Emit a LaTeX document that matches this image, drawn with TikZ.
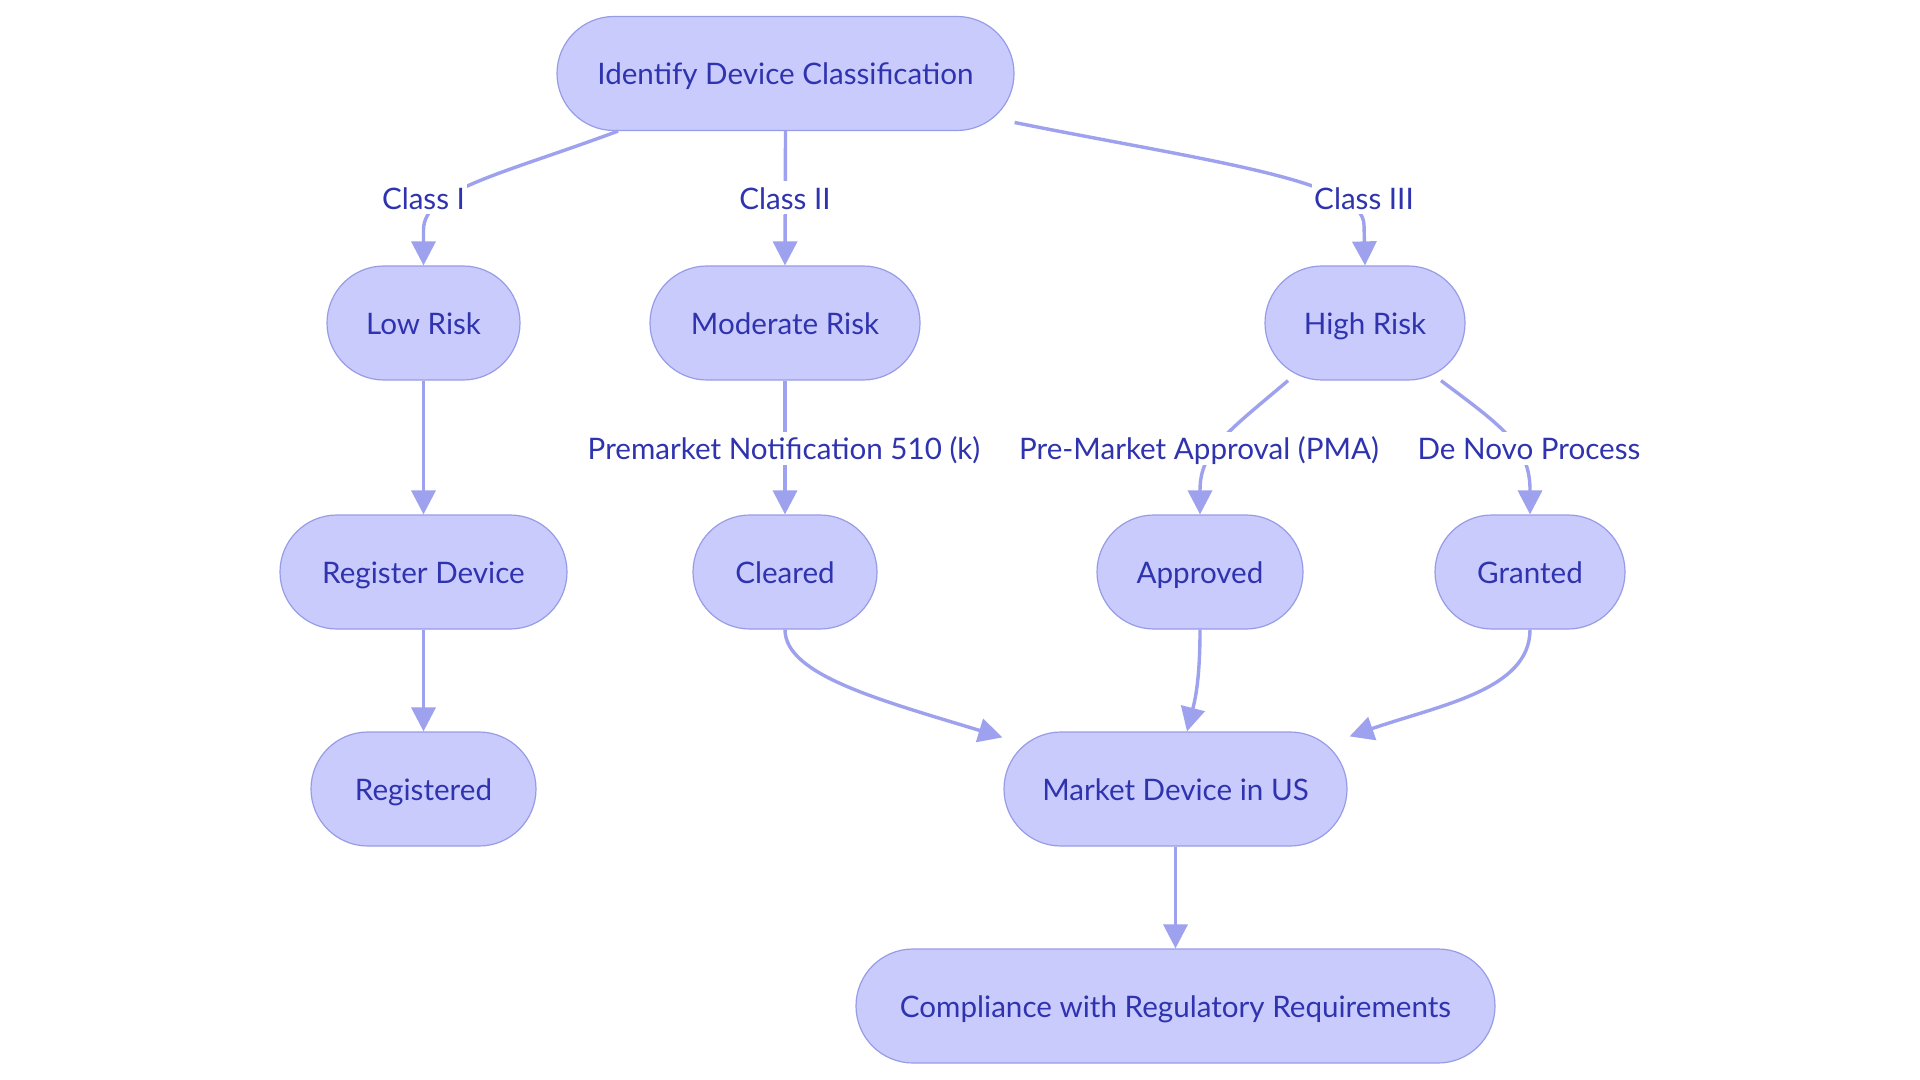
\documentclass[tikz,border=0pt]{standalone}
\usepackage{fontspec}
\setmainfont{Lato}
\usetikzlibrary{arrows.meta,calc,positioning}
\definecolor{boxfill}{HTML}{CACBFD}
\definecolor{boxline}{HTML}{979CE6}
\definecolor{boxtext}{HTML}{2F33AE}
\definecolor{edgecol}{HTML}{9DA1EE}

\begin{document}
\begin{tikzpicture}[x=0.5pt, y=-0.5pt]
        \tikzset{
            box/.style={draw=boxline, fill=boxfill, line width=0.6pt,
                rounded corners=28.5pt, minimum height=57pt, inner sep=0pt,
                text height=11.5pt, text depth=0pt,
                text=boxtext, font=\fontsize{14.8}{18}\selectfont},
            lbl/.style={fill=white, text=boxtext, inner xsep=1pt, inner ysep=2.5pt,
                text height=11.5pt, text depth=0pt,
                font=\fontsize{14.8}{18}\selectfont},
            edge/.style={draw=edgecol, line width=1.7pt,
                -{Triangle[length=12pt, width=12pt]}}
        }
        \fill[white] (0,0) rectangle (1920,1080);
        \useasboundingbox (0,0) rectangle (1920,1080);

        \begin{scope}
            \node[box, minimum width=228.5pt] (idc) at (785.5, 73.5)
            {Identify Device Classification};
            \node[box, minimum width=96.5pt] (low) at (423.5, 323)
            {Low Risk};
            \node[box, minimum width=135pt] (mod) at (785, 323)
            {Moderate Risk};
            \node[box, minimum width=100pt] (high) at (1365, 323)
            {High Risk};
            \node[box, minimum width=143.5pt] (reg) at (423.5, 572)
            {Register Device};
            \node[box, minimum width=92pt] (clr) at (785, 572)
            {Cleared};
            \node[box, minimum width=103pt] (appr) at (1200, 572)
            {Approved};
            \node[box, minimum width=95pt] (grant) at (1530, 572)
            {Granted};
            \node[box, minimum width=112.5pt] (regd) at (423.5, 789)
            {Registered};
            \node[box, minimum width=171.5pt] (mkt) at (1175.5, 789)
            {Market Device in US};
            \node[box, minimum width=319.5pt] (comp) at (1175.5, 1006)
            {Compliance with Regulatory Requirements};
        \end{scope}

        % connectors
        \begin{scope}
            \draw[edge] ($(idc.south)+(-167.5,0)$) .. controls (500,175) and (423.5,190)
                .. (423.5,230) -- (low.north);
            \draw[edge] (idc.south) -- (mod.north);
            \draw[edge] ($(idc.east)+(0,49)$) .. controls (1200,160) and (1364,180)
                .. (1364,225) -- (high.north);
            \draw[edge] (low) -- (reg);
            \draw[edge] (mod) -- (clr);
            \draw[edge] ($(high.south)+(-77,0)$) .. controls (1230,430) and (1200,450)
                .. (1200,490) -- (appr.north);
            \draw[edge] ($(high.south)+(76,0)$) .. controls (1500,425) and (1530,445)
                .. (1530,490) -- (grant.north);
            \draw[edge] (reg) -- (regd);
            \draw[edge] (clr.south) .. controls (785,675) and (880,700)
                .. ($(mkt.north west)+(-1,6)$);
            \draw[edge] (appr.south) .. controls (1200,680) and (1195,700)
                .. ($(mkt.north)+(11.5,0)$);
            \draw[edge] (grant.south) .. controls (1530,690) and (1440,705)
                .. ($(mkt.north east)+(2,5)$);
            \draw[edge] (mkt) -- (comp);
        \end{scope}

        % labels on the connectors
        \node[lbl] (cI) at (423.5, 198) {Class I};
        \node[lbl] (cII) at (785, 198) {Class II};
        \node[lbl] (cIII) at (1364, 198) {Class III};
        \node[lbl] (pmn) at (784, 448) {Premarket Notification 510 (k)};
        \node[lbl] (pma) at (1199, 448) {Pre-Market Approval (PMA)};
        \node[lbl] (dnv) at (1529, 448) {De Novo Process};

        \end{tikzpicture}
\end{document}
